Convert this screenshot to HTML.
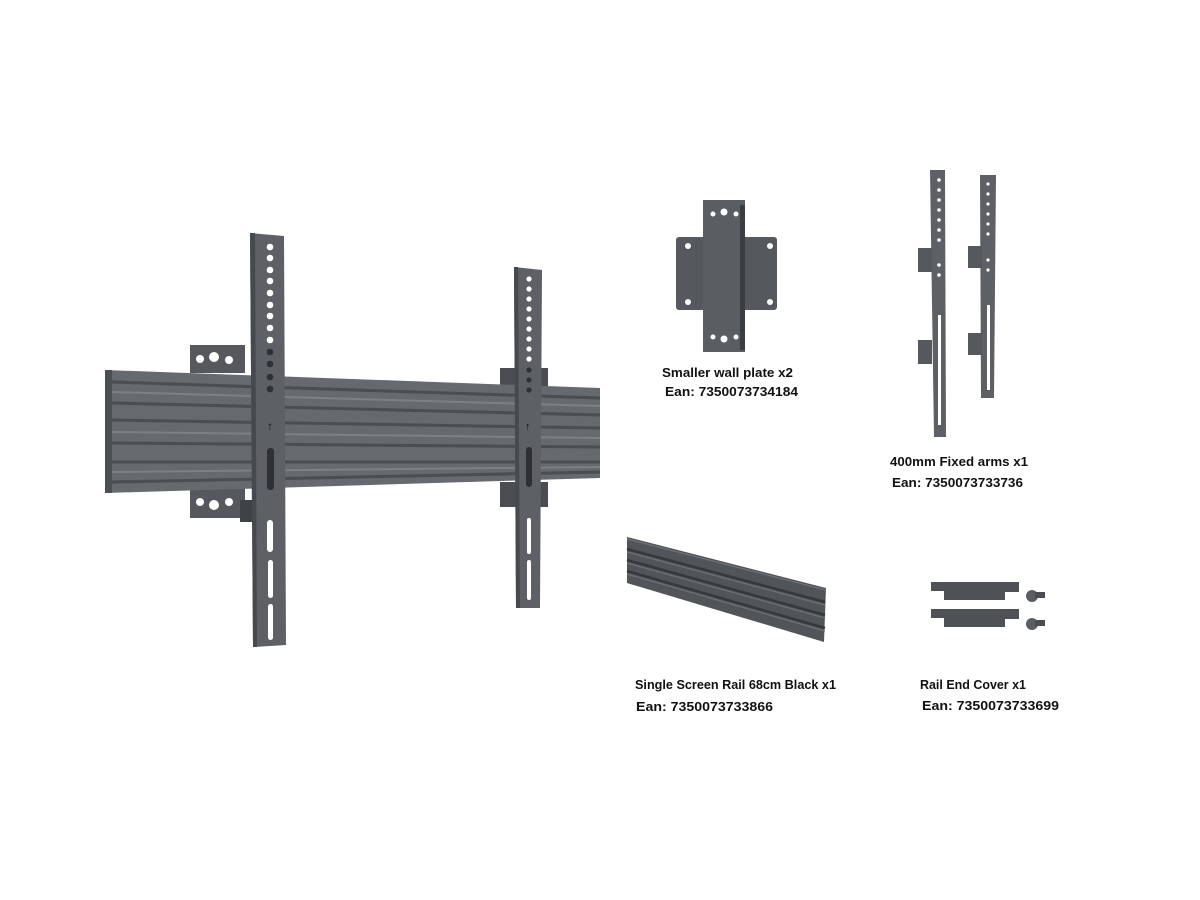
<!DOCTYPE html>
<html><head><meta charset="utf-8"><style>
html,body{margin:0;padding:0;background:#fff;}
svg{display:block;}
text{font-family:"Liberation Sans",sans-serif;font-weight:bold;font-size:13px;fill:#111;}
</style></head><body>
<svg width="1200" height="900" viewBox="0 0 1200 900" xmlns="http://www.w3.org/2000/svg">
<rect width="1200" height="900" fill="#fff"/>
<rect x="190" y="345" width="55" height="28" fill="#55585c"/>
<circle cx="200" cy="359" r="4" fill="#fff"/><circle cx="214" cy="357" r="5" fill="#fff"/><circle cx="229" cy="360" r="4" fill="#fff"/>
<rect x="190" y="488" width="55" height="30" fill="#55585c"/>
<circle cx="200" cy="502" r="4" fill="#fff"/><circle cx="214" cy="505" r="5" fill="#fff"/><circle cx="229" cy="502" r="4" fill="#fff"/>
<rect x="240" y="500" width="14" height="22" fill="#3e4145"/>
<rect x="500" y="368" width="48" height="20" fill="#4a4d51"/>
<rect x="500" y="482" width="48" height="25" fill="#4a4d51"/>
<polygon points="105,370 600,388 600,478 105,493" fill="#66696d"/>
<polygon points="105,370 112,370 112,493 105,493" fill="#4b4e52"/>
<g stroke="#4a4d51" stroke-width="3">
<line x1="112" y1="382" x2="600" y2="398"/>
<line x1="112" y1="403" x2="600" y2="415"/>
<line x1="112" y1="420" x2="600" y2="428"/>
<line x1="112" y1="443" x2="600" y2="447"/>
<line x1="112" y1="462" x2="600" y2="462"/>
<line x1="112" y1="482" x2="600" y2="472"/>
</g>
<g stroke="#7c7f83" stroke-width="2">
<line x1="112" y1="392" x2="600" y2="406"/>
<line x1="112" y1="432" x2="600" y2="438"/>
<line x1="112" y1="472" x2="600" y2="467"/>
</g>
<polygon points="250,233 284,236 286,645 253,647" fill="#5d6064"/>
<polygon points="250,233 255,233 257,647 253,647" fill="#46494d"/>
<g fill="#fff">
<circle cx="270" cy="247" r="3.3"/><circle cx="270" cy="258" r="3.3"/><circle cx="270" cy="270" r="3.3"/><circle cx="270" cy="281" r="3.3"/><circle cx="270" cy="293" r="3.3"/><circle cx="270" cy="305" r="3.3"/><circle cx="270" cy="316" r="3.3"/><circle cx="270" cy="328" r="3.3"/><circle cx="270" cy="340" r="3.3"/>
<rect x="267" y="520" width="6" height="32" rx="3"/><rect x="268" y="560" width="5" height="38" rx="2.5"/><rect x="268" y="604" width="5" height="36" rx="2.5"/>
</g>
<g fill="#2e3034"><circle cx="270" cy="352" r="3.3"/><circle cx="270" cy="364" r="3.3"/><circle cx="270" cy="377" r="3.3"/><circle cx="270" cy="389" r="3.3"/>
<rect x="267" y="448" width="7" height="42" rx="3"/></g>
<text x="267" y="430" style="font-size:12px;fill:#111">↑</text>
<polygon points="514,267 542,270 540,608 516,608" fill="#5d6064"/>
<polygon points="514,267 518,267 520,608 516,608" fill="#46494d"/>
<g fill="#fff">
<circle cx="529" cy="279" r="2.6"/><circle cx="529" cy="289" r="2.6"/><circle cx="529" cy="299" r="2.6"/><circle cx="529" cy="309" r="2.6"/><circle cx="529" cy="319" r="2.6"/><circle cx="529" cy="329" r="2.6"/><circle cx="529" cy="339" r="2.6"/><circle cx="529" cy="349" r="2.6"/><circle cx="529" cy="359" r="2.6"/>
<rect x="527" y="518" width="4" height="36" rx="2"/><rect x="527" y="560" width="4" height="40" rx="2"/>
</g>
<g fill="#2e3034"><circle cx="529" cy="370" r="2.6"/><circle cx="529" cy="380" r="2.6"/><circle cx="529" cy="390" r="2.6"/><rect x="526" y="447" width="6" height="40" rx="3"/></g>
<text x="525" y="430" style="font-size:11px;fill:#111">↑</text>
<rect x="500" y="492" width="14" height="14" fill="#4a4d51"/>
<rect x="676" y="237" width="101" height="73" rx="3" fill="#55585c"/>
<rect x="703" y="200" width="42" height="152" fill="#5a5d61"/>
<rect x="740" y="205" width="5" height="145" fill="#3a3d41"/>
<g fill="#fff"><circle cx="688" cy="246" r="3"/><circle cx="770" cy="246" r="3"/><circle cx="688" cy="302" r="3"/><circle cx="770" cy="302" r="3"/>
<circle cx="713" cy="214" r="2.5"/><circle cx="724" cy="212" r="3.5"/><circle cx="736" cy="214" r="2.5"/>
<circle cx="713" cy="337" r="2.5"/><circle cx="724" cy="339" r="3.5"/><circle cx="736" cy="337" r="2.5"/></g>
<polygon points="930,170 945,170 946,437 934,437" fill="#5d6064"/>
<rect x="918" y="248" width="14" height="24" fill="#55585c"/>
<rect x="918" y="340" width="14" height="24" fill="#55585c"/>
<polygon points="980,175 996,175 994,398 981,398" fill="#5d6064"/>
<rect x="968" y="246" width="14" height="22" fill="#55585c"/>
<rect x="968" y="333" width="14" height="22" fill="#55585c"/>
<g fill="#fff"><circle cx="939" cy="180" r="1.8"/><circle cx="939" cy="190" r="1.8"/><circle cx="939" cy="200" r="1.8"/><circle cx="939" cy="210" r="1.8"/><circle cx="939" cy="220" r="1.8"/><circle cx="939" cy="230" r="1.8"/><circle cx="939" cy="240" r="1.8"/><circle cx="939" cy="265" r="1.8"/><circle cx="939" cy="275" r="1.8"/>
<rect x="938" y="315" width="3" height="110"/>
<circle cx="988" cy="184" r="1.6"/><circle cx="988" cy="194" r="1.6"/><circle cx="988" cy="204" r="1.6"/><circle cx="988" cy="214" r="1.6"/><circle cx="988" cy="224" r="1.6"/><circle cx="988" cy="234" r="1.6"/><circle cx="988" cy="260" r="1.6"/><circle cx="988" cy="270" r="1.6"/>
<rect x="987" y="305" width="3" height="85"/></g>
<!-- single rail -->
<polygon points="627,537 826,588 824,642 627,583" fill="#515458"/>
<g stroke="#35383c" stroke-width="2.5"><line x1="627" y1="549" x2="825" y2="602"/><line x1="627" y1="560" x2="825" y2="615"/><line x1="627" y1="571" x2="825" y2="628"/></g>
<g stroke="#6e7175" stroke-width="1.2"><line x1="627" y1="539" x2="826" y2="590"/><line x1="627" y1="552" x2="825" y2="605"/><line x1="627" y1="563" x2="825" y2="618"/><line x1="627" y1="574" x2="825" y2="631"/></g>
<!-- end covers -->
<polygon points="931,582 1019,582 1019,592 1005,592 1005,600 944,600 944,591 931,591" fill="#4e5155"/>
<polygon points="931,609 1019,609 1019,619 1005,619 1005,627 944,627 944,618 931,618" fill="#4e5155"/>
<circle cx="1032" cy="596" r="6" fill="#5a5d61"/><rect x="1035" y="592" width="10" height="6" fill="#4a4d51"/>
<circle cx="1032" cy="624" r="6" fill="#5a5d61"/><rect x="1035" y="620" width="10" height="6" fill="#4a4d51"/>
<text x="662" y="377" textLength="131" lengthAdjust="spacingAndGlyphs">Smaller wall plate x2</text>
<text x="665" y="396" textLength="133" lengthAdjust="spacingAndGlyphs">Ean:  7350073734184</text>
<text x="890" y="466" textLength="138" lengthAdjust="spacingAndGlyphs">400mm Fixed arms x1</text>
<text x="892" y="487" textLength="131" lengthAdjust="spacingAndGlyphs">Ean: 7350073733736</text>
<text x="635" y="689" textLength="201" lengthAdjust="spacingAndGlyphs">Single Screen Rail 68cm Black x1</text>
<text x="636" y="711" textLength="137" lengthAdjust="spacingAndGlyphs">Ean:  7350073733866</text>
<text x="920" y="689" textLength="106" lengthAdjust="spacingAndGlyphs">Rail End Cover x1</text>
<text x="922" y="710" textLength="137" lengthAdjust="spacingAndGlyphs">Ean:  7350073733699</text>
</svg>
</body></html>
